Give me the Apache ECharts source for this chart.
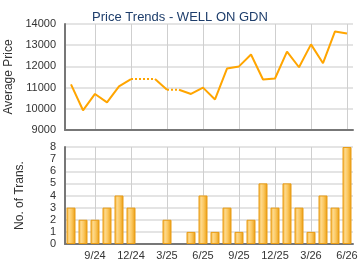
<!DOCTYPE html>
<html>
<head>
<meta charset="utf-8">
<script src="https://cdn.jsdelivr.net/npm/echarts@6/dist/echarts.min.js"></script>
<style>
  html, body { margin: 0; padding: 0; background: #fff; }
  #main { width: 360px; height: 270px; }
</style>
</head>
<body>
<div id="main"></div>
<script>
// monthly data, 7/24 .. 6/26
const months = ['7/24','8/24','9/24','10/24','11/24','12/24','1/25','2/25','3/25','4/25','5/25','6/25',
                '7/25','8/25','9/25','10/25','11/25','12/25','1/26','2/26','3/26','4/26','5/26','6/26'];
// null = month without transactions
const avgPrice = [11150, 9930, 10700, 10300, 11060, 11400, null, null, 10900, null, 10700, 11000,
                  10440, 11900, 12000, 12560, 11380, 11430, 12700, 11960, 13040, 12150, 13650, 13550];
const transCount = [3, 2, 2, 3, 4, 3, 0, 0, 2, 0, 1, 4, 1, 3, 1, 2, 5, 3, 5, 3, 1, 4, 3, 8];
const priceMin = 9000, priceMax = 14000, priceStep = 1000;
const transMax = 8;

const myChart = echarts.init(document.getElementById('main'));
const FONT = '"Liberation Sans", Arial, sans-serif';

// carry the last price over empty months
const filled = [];
let last = null;
avgPrice.forEach(v => { if (v != null) last = v; filled.push(last); });

// a segment into an empty month is drawn dotted
const segs = [];
for (let i = 1; i < filled.length; i++) {
  const dotted = avgPrice[i] == null;
  const cur = segs[segs.length - 1];
  if (cur && cur.dotted === dotted && cur.end === i - 1) cur.end = i;
  else segs.push({ dotted: dotted, start: i - 1, end: i });
}
const lineSeries = segs.map(s => ({
  type: 'line', xAxisIndex: 0, yAxisIndex: 0,
  symbol: 'none', showSymbol: false, silent: true,
  data: filled.map((v, i) => (i >= s.start && i <= s.end ? v : null)),
  lineStyle: { color: '#ffa500', width: 2, type: s.dotted ? [2, 2] : 'solid' }
}));

const showLabel = i => i % 3 === 2;

function xAxis(gridIndex, labels) {
  return {
    type: 'category', gridIndex: gridIndex, data: months, boundaryGap: true,
    axisLine: { lineStyle: { color: '#777', width: 2 } },
    axisTick: { show: false },
    axisLabel: {
      show: labels, interval: showLabel, color: '#333', fontSize: 11,
      fontFamily: FONT, margin: 6, formatter: v => v
    },
    splitLine: { show: true, interval: showLabel, alignWithLabel: true,
                 lineStyle: { color: '#cfcfcf', width: 1 } }
  };
}

function yAxis(gridIndex, name, min, max, step) {
  return {
    type: 'value', gridIndex: gridIndex, min: min, max: max, interval: step,
    name: name, nameLocation: 'middle', nameGap: 39, nameRotate: 90,
    nameTextStyle: { color: '#333', fontSize: 12, fontFamily: FONT },
    axisLine: { show: true, lineStyle: { color: '#777', width: 2 } },
    axisTick: { show: false },
    axisLabel: { color: '#333', fontSize: 11, fontFamily: FONT, margin: 9, formatter: v => String(v) },
    splitLine: { show: true, lineStyle: { color: '#e4e4e4', width: 2 } }
  };
}

const option = {
  backgroundColor: '#fff',
  animation: false,
  title: {
    text: 'Price Trends - WELL ON GDN', left: 'center', top: 6,
    textStyle: { color: '#1d3d6b', fontSize: 13, fontWeight: 'normal', fontFamily: FONT }
  },
  grid: [
    { left: 65, right: 7, top: 24, height: 106, containLabel: false, outerBoundsMode: 'none' },
    { left: 65, right: 7, top: 147, height: 97, containLabel: false, outerBoundsMode: 'none' }
  ],
  xAxis: [xAxis(0, false), xAxis(1, true)],
  yAxis: [
    yAxis(0, 'Average Price', priceMin, priceMax, priceStep),
    yAxis(1, 'No. of Trans.', 0, transMax, 1)
  ],
  series: lineSeries.concat([{
    type: 'bar', xAxisIndex: 1, yAxisIndex: 1, barWidth: 9, silent: true,
    // empty months draw no bar at all
    data: transCount.map(v => (v ? v : null)),
    itemStyle: {
      borderColor: '#e99c14', borderWidth: 1,
      color: new echarts.graphic.LinearGradient(0, 0, 1, 0, [
        { offset: 0, color: '#f3ad2c' },
        { offset: 0.3, color: '#fdd98c' },
        { offset: 0.6, color: '#fbc65c' },
        { offset: 1, color: '#e89a0e' }
      ])
    }
  }])
};
myChart.setOption(option);
</script>
</body>
</html>
